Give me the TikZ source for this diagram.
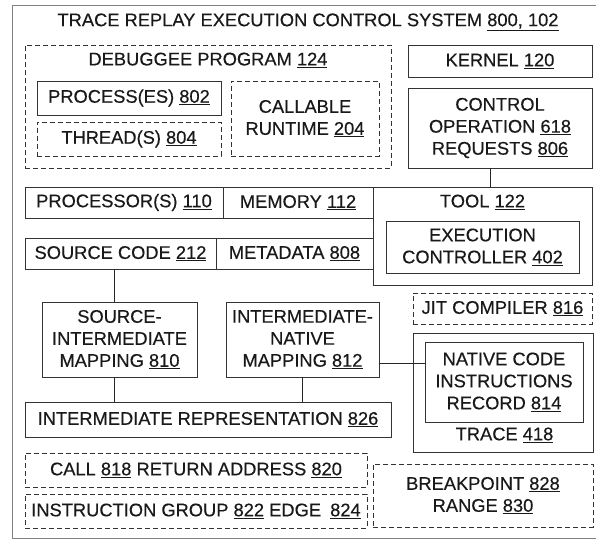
\documentclass[tikz,border=0pt]{standalone}
\usepackage{fontspec}
\setmainfont{Liberation Sans}[UprightFeatures={FakeBold=0.35}]
\newcommand\un[1]{\underline{#1}}
\newcommand\mkbox[7]{%
  \node[#1, minimum width={(#5-#3)*1pt}, minimum height={(#6-#4)*1pt}] (#2) at ({(#3+#5)/2},{(#4+#6)/2}) {#7};}
\begin{document}
\begin{tikzpicture}[x=1pt,y=-1pt,
  bx/.style={draw=black!80, line width=0.9pt, inner sep=0pt, align=center,
    font=\fontsize{18.3}{22}\selectfont, text=black!90},
  dbx/.style={bx, dash pattern=on 5pt off 3pt},
  outerbox/.style={draw=black!50, line width=0.8pt, inner sep=0pt},
  lbl/.style={inner sep=0pt, align=center, font=\fontsize{18.3}{22}\selectfont, text=black!90},
  conn/.style={draw=black!85, line width=0.9pt}]
\clip (0,0) rectangle (596,540);
\fill[white] (0,0) rectangle (596,540);
\mkbox{outerbox}{sys}{12}{5}{600}{538}{}
\node[lbl] (title) at (308,22) {TRACE REPLAY EXECUTION CONTROL SYSTEM \un{800, 102}};
% debuggee program
\mkbox{dbx}{dbg}{25}{45}{391}{168}{}
\node[lbl] (dbgl) at (208,60) {DEBUGGEE PROGRAM \un{124}};
\mkbox{bx}{proc}{37}{81}{221}{115}{PROCESS(ES) \un{802}}
\mkbox{dbx}{thr}{37}{122}{221}{156}{THREAD(S) \un{804}}
\mkbox{dbx}{crt}{231}{81}{379}{156}{CALLABLE\\RUNTIME \un{204}}
% kernel and control
\mkbox{bx}{kern}{408}{45}{592}{77}{KERNEL \un{120}}
\mkbox{bx}{ctrl}{408}{88}{592}{168}{CONTROL\\OPERATION \un{618}\\REQUESTS \un{806}}
% tool
\mkbox{bx}{tool}{373}{187}{592}{285}{}
\node[lbl] (tooll) at (482.5,202) {TOOL \un{122}};
\mkbox{bx}{exec}{386}{221}{579}{273}{EXECUTION\\CONTROLLER \un{402}}
% rows
\mkbox{bx}{cpu}{25}{187}{223}{218}{PROCESSOR(S) \un{110}}
\mkbox{bx}{mem}{223}{187}{373}{218}{MEMORY \un{112}}
\mkbox{bx}{src}{25}{238}{216}{269}{SOURCE CODE \un{212}}
\mkbox{bx}{meta}{216}{238}{373}{269}{METADATA \un{808}}
% mappings
\mkbox{bx}{sim}{42}{302}{197}{377}{SOURCE-\\INTERMEDIATE\\MAPPING \un{810}}
\mkbox{bx}{inm}{226}{302}{379}{377}{INTERMEDIATE-\\NATIVE\\MAPPING \un{812}}
% jit and trace
\mkbox{dbx}{jit}{413}{293}{592}{324}{JIT COMPILER \un{816}}
\mkbox{bx}{trace}{413}{333}{593}{452}{}
\node[lbl] (tracel) at (504.5,435) {TRACE \un{418}};
\mkbox{bx}{native}{425}{342}{583}{422}{NATIVE CODE\\INSTRUCTIONS\\RECORD \un{814}}
% IR
\mkbox{bx}{ir}{25}{402}{391}{437}{INTERMEDIATE REPRESENTATION \un{826}}
% bottom dashed
\mkbox{dbx}{call}{25}{453}{367}{487}{CALL \un{818} RETURN ADDRESS \un{820}}
\mkbox{dbx}{igrp}{25}{494}{367}{528}{INSTRUCTION GROUP \un{822} EDGE\hspace{0.5em}\un{824}}
\mkbox{dbx}{bpt}{373}{464}{593}{527}{BREAKPOINT \un{828}\\RANGE \un{830}}
% connectors
\coordinate (cx1) at (490,0);
\coordinate (cx2) at (114,0);
\coordinate (cy1) at (0,363);
\draw[conn] (ctrl.south -| cx1) -- (tool.north -| cx1);
\draw[conn] (src.south -| cx2) -- (sim.north -| cx2);
\draw[conn] (sim.south -| cx2) -- (ir.north -| cx2);
\draw[conn] (inm.south) -- (ir.north -| inm.south);
\draw[conn] (inm.east |- cy1) -- (native.west |- cy1);
\end{tikzpicture}
\end{document}
